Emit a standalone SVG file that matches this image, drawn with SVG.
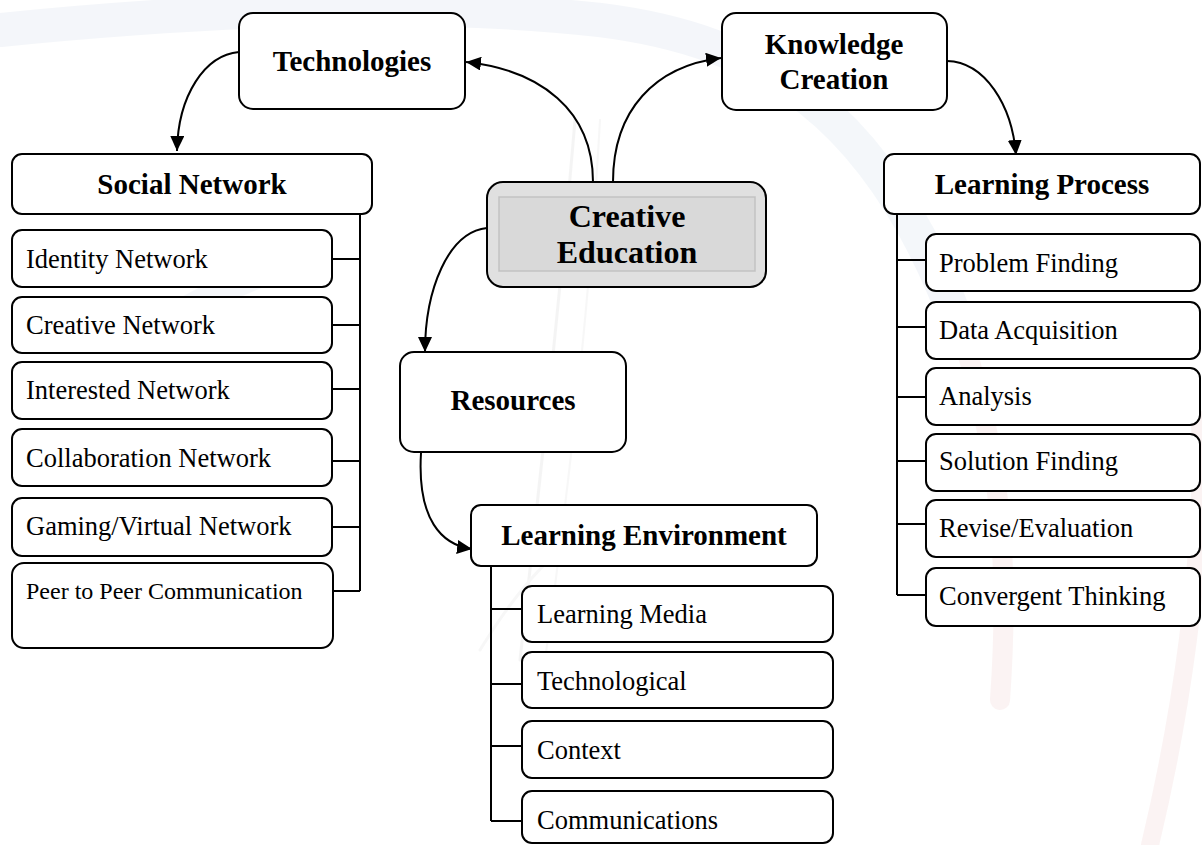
<svg xmlns="http://www.w3.org/2000/svg" width="1202" height="845" viewBox="0 0 1202 845">
  <style>
    .box { fill: #ffffff; stroke: #000000; stroke-width: 2; }
    .hub { fill: #e0e0e0; stroke: #000000; stroke-width: 2; }
    .hub-inner { fill: #d9d9d9; stroke: #c2c2c2; stroke-width: 1.5; }
    .head { font-family: "Liberation Serif", "Times New Roman", serif; font-weight: bold; font-size: 29px; fill: #000000; text-anchor: middle; }
    .hubtext { font-family: "Liberation Serif", "Times New Roman", serif; font-weight: bold; font-size: 32px; fill: #000000; text-anchor: middle; }
    .item { font-family: "Liberation Serif", "Times New Roman", serif; font-size: 26.5px; fill: #000000; }
    .small { font-size: 24px; }
    .arrow { fill: none; stroke: #000000; stroke-width: 2; marker-end: url(#tip); }
    .tree { fill: none; stroke: #000000; stroke-width: 2; }
    .wm { fill: none; stroke-linecap: round; }
  </style>
  <defs>
    <marker id="tip" markerUnits="userSpaceOnUse" markerWidth="16" markerHeight="14" refX="15" refY="7" orient="auto">
      <path d="M0,0 L15,7 L0,14 z" fill="#000000"/>
    </marker>
  </defs>

  <rect x="0" y="0" width="1202" height="845" fill="#ffffff"/>

  <!-- faint background emblem -->
  <g id="emblem" opacity="0.4">
    <path class="wm" d="M0,30 C200,10 420,0 600,20 C760,40 880,110 960,330" stroke="#e4eaf3" stroke-width="34"/>
    <path class="wm" d="M960,330 C1000,450 1010,560 1000,700" stroke="#f6e2e2" stroke-width="20"/>
    <path class="wm" d="M1200,420 C1205,560 1180,720 1150,845" stroke="#f6e2e2" stroke-width="18"/>
    <path class="wm" d="M150,330 C200,300 240,280 300,260" stroke="#e8edf5" stroke-width="26"/>
    <path class="wm" d="M575,120 C560,300 540,480 520,660" stroke="#e6e6e6" stroke-width="3"/>
    <path class="wm" d="M600,120 C590,300 570,480 545,660" stroke="#ececec" stroke-width="2"/>
    <path class="wm" d="M480,650 C560,520 640,470 760,560" stroke="#ececec" stroke-width="3"/>
  </g>

  <!-- connectors -->
  <g id="connectors">
    <path class="arrow" d="M593,182 C593,110 540,70 466,62"/>
    <path class="arrow" d="M613,182 C613,110 655,66 721,58"/>
    <path class="arrow" d="M239,52 C205,55 178,95 177,151"/>
    <path class="arrow" d="M947,61 C985,62 1012,105 1016,155"/>
    <path class="arrow" d="M487,228 C448,232 425,290 425,352"/>
    <path class="arrow" d="M421,453 C417,520 442,545 472,549"/>

    <path class="tree" d="M360,214 V591 M332,259 H360 M332,325 H360 M332,389 H360 M332,461 H360 M332,527 H360 M332,591 H360"/>
    <path class="tree" d="M897,214 V595 M897,260 H926 M897,327 H926 M897,397 H926 M897,461 H926 M897,524 H926 M897,595 H926"/>
    <path class="tree" d="M491,566 V821 M491,609 H522 M491,684 H522 M491,746 H522 M491,821 H522"/>
  </g>

  <!-- central node -->
  <g id="creative-education">
    <rect class="hub" x="487" y="182" width="279" height="105" rx="16"/>
    <rect class="hub-inner" x="499" y="197" width="256" height="74"/>
    <text class="hubtext" x="627" y="227">Creative</text>
    <text class="hubtext" x="627" y="263">Education</text>
  </g>

  <g id="technologies">
    <rect class="box" x="239" y="13" width="226" height="96" rx="14"/>
    <text class="head" x="352" y="71">Technologies</text>
  </g>

  <g id="knowledge-creation">
    <rect class="box" x="722" y="13" width="225" height="97" rx="14"/>
    <text class="head" x="834" y="54">Knowledge</text>
    <text class="head" x="834" y="89">Creation</text>
  </g>

  <g id="resources">
    <rect class="box" x="400" y="352" width="226" height="100" rx="14"/>
    <text class="head" x="513" y="410">Resources</text>
  </g>

  <!-- social network branch -->
  <g id="social-network">
    <rect class="box" x="12" y="154" width="360" height="60" rx="10"/>
    <text class="head" x="192" y="194">Social Network</text>
  </g>
  <g id="identity-network">
    <rect class="box" x="12" y="230" width="320" height="57" rx="10"/>
    <text class="item" x="26" y="268">Identity Network</text>
  </g>
  <g id="creative-network">
    <rect class="box" x="12" y="297" width="320" height="56" rx="10"/>
    <text class="item" x="26" y="334">Creative Network</text>
  </g>
  <g id="interested-network">
    <rect class="box" x="12" y="362" width="320" height="57" rx="10"/>
    <text class="item" x="26" y="399">Interested Network</text>
  </g>
  <g id="collaboration-network">
    <rect class="box" x="12" y="429" width="320" height="57" rx="10"/>
    <text class="item" x="26" y="467">Collaboration Network</text>
  </g>
  <g id="gaming-network">
    <rect class="box" x="12" y="498" width="320" height="58" rx="10"/>
    <text class="item" x="26" y="535">Gaming/Virtual Network</text>
  </g>
  <g id="peer-communication">
    <rect class="box" x="12" y="563" width="321" height="85" rx="12"/>
    <text class="item small" x="26" y="599">Peer to Peer Communication</text>
  </g>

  <!-- learning process branch -->
  <g id="learning-process">
    <rect class="box" x="884" y="154" width="316" height="60" rx="10"/>
    <text class="head" x="1042" y="194">Learning Process</text>
  </g>
  <g id="problem-finding">
    <rect class="box" x="926" y="234" width="274" height="57" rx="10"/>
    <text class="item" x="939" y="272">Problem Finding</text>
  </g>
  <g id="data-acquisition">
    <rect class="box" x="926" y="302" width="274" height="57" rx="10"/>
    <text class="item" x="939" y="339">Data Acquisition</text>
  </g>
  <g id="analysis">
    <rect class="box" x="926" y="368" width="274" height="57" rx="10"/>
    <text class="item" x="939" y="405">Analysis</text>
  </g>
  <g id="solution-finding">
    <rect class="box" x="926" y="434" width="274" height="57" rx="10"/>
    <text class="item" x="939" y="470">Solution Finding</text>
  </g>
  <g id="revise-evaluation">
    <rect class="box" x="926" y="500" width="274" height="57" rx="10"/>
    <text class="item" x="939" y="537">Revise/Evaluation</text>
  </g>
  <g id="convergent-thinking">
    <rect class="box" x="926" y="568" width="274" height="58" rx="10"/>
    <text class="item" x="939" y="605">Convergent Thinking</text>
  </g>

  <!-- learning environment branch -->
  <g id="learning-environment">
    <rect class="box" x="471" y="505" width="346" height="61" rx="10"/>
    <text class="head" x="644" y="545">Learning Environment</text>
  </g>
  <g id="learning-media">
    <rect class="box" x="522" y="586" width="311" height="56" rx="10"/>
    <text class="item" x="537" y="623">Learning Media</text>
  </g>
  <g id="technological">
    <rect class="box" x="522" y="652" width="311" height="56" rx="10"/>
    <text class="item" x="537" y="690">Technological</text>
  </g>
  <g id="context">
    <rect class="box" x="522" y="721" width="311" height="57" rx="10"/>
    <text class="item" x="537" y="759">Context</text>
  </g>
  <g id="communications">
    <rect class="box" x="522" y="791" width="311" height="52" rx="10"/>
    <text class="item" x="537" y="829">Communications</text>
  </g>
</svg>
